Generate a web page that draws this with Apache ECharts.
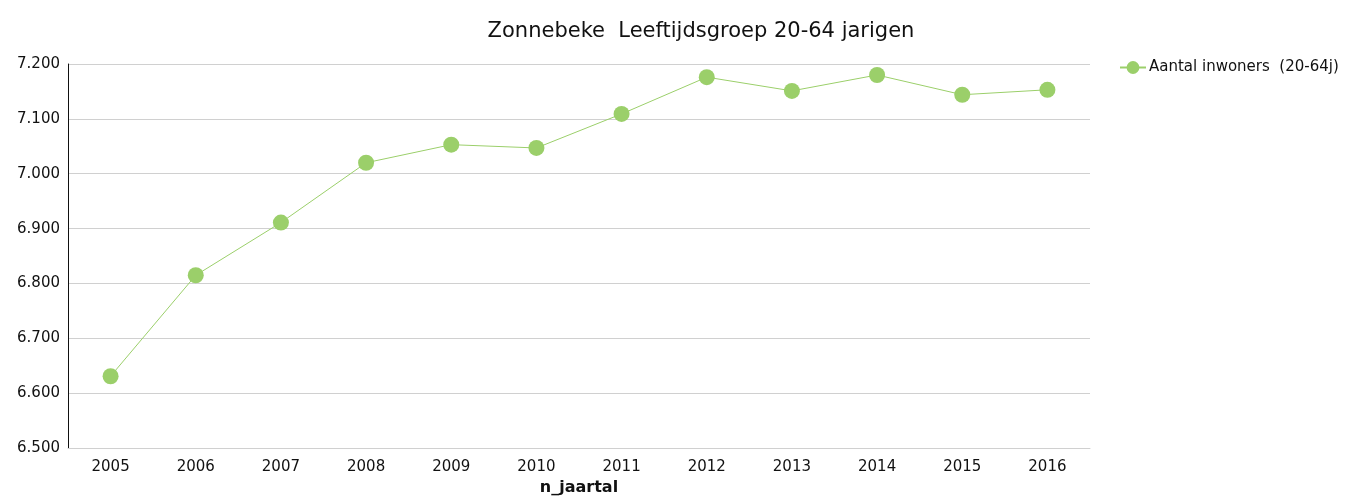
<!DOCTYPE html>
<html>
<head>
<meta charset="utf-8">
<script src="https://cdn.jsdelivr.net/npm/echarts@6/dist/echarts.min.js"></script>
<style>
  html, body { margin: 0; padding: 0; background: #fff; }
  #chart { width: 1346px; height: 501px; }
</style>
</head>
<body>
<div id="chart"></div>
<script>
const years = ['2005', '2006', '2007', '2008', '2009', '2010', '2011', '2012', '2013', '2014', '2015', '2016']
const inwoners = [6631, 6815, 6911, 7020, 7053, 7047, 7109, 7176, 7151, 7180, 7144, 7153]

const font = 'Tahoma, "DejaVu Sans", Verdana, sans-serif'
const green = '#9bcf6a'

const myChart = echarts.init(document.getElementById('chart'))

// 7200 -> 7.200
const fmt = v => {
  const s = v.toFixed(0)
  return s.slice(0, s.length - 3) + '.' + s.slice(-3)
}

myChart.setOption({
  animation: false,
  title: {
    text: 'Zonnebeke  Leeftijdsgroep 20-64 jarigen',
    left: 696,
    textAlign: 'center',
    top: 16,
    textStyle: { fontFamily: font, fontSize: 21, fontWeight: 'normal', color: '#111' }
  },
  legend: {
    left: 1114,
    top: 55,
    itemWidth: 26,
    itemHeight: 16,
    itemGap: 8,
    textStyle: { fontFamily: font, fontSize: 15, color: '#111', padding: [0, 0, 0, -2] },
    data: ['Aantal inwoners  (20-64j)']
  },
  grid: { left: 68, right: 256, top: 64, bottom: 52 },
  xAxis: {
    type: 'category',
    data: years,
    boundaryGap: true,
    name: 'n_jaartal',
    nameLocation: 'middle',
    nameGap: 31,
    nameTextStyle: { fontFamily: font, fontSize: 16, fontWeight: 'bold', color: '#111' },
    axisLine: { lineStyle: { color: '#d0d0d0' } },
    axisTick: { show: false },
    axisLabel: { fontFamily: font, fontSize: 15, color: '#111', margin: 12 }
  },
  yAxis: {
    type: 'value',
    min: 6500,
    max: 7200,
    interval: 100,
    axisLine: { show: true, lineStyle: { color: '#111' } },
    axisTick: { show: false },
    axisLabel: { fontFamily: font, fontSize: 15, color: '#111', margin: 8, formatter: fmt },
    splitLine: { lineStyle: { color: '#d0d0d0' } }
  },
  series: [{
    name: 'Aantal inwoners  (20-64j)',
    type: 'line',
    data: inwoners,
    symbol: 'circle',
    symbolSize: 16,
    itemStyle: { color: green },
    lineStyle: { color: green, width: 1 }
  }]
})
</script>
</body>
</html>
